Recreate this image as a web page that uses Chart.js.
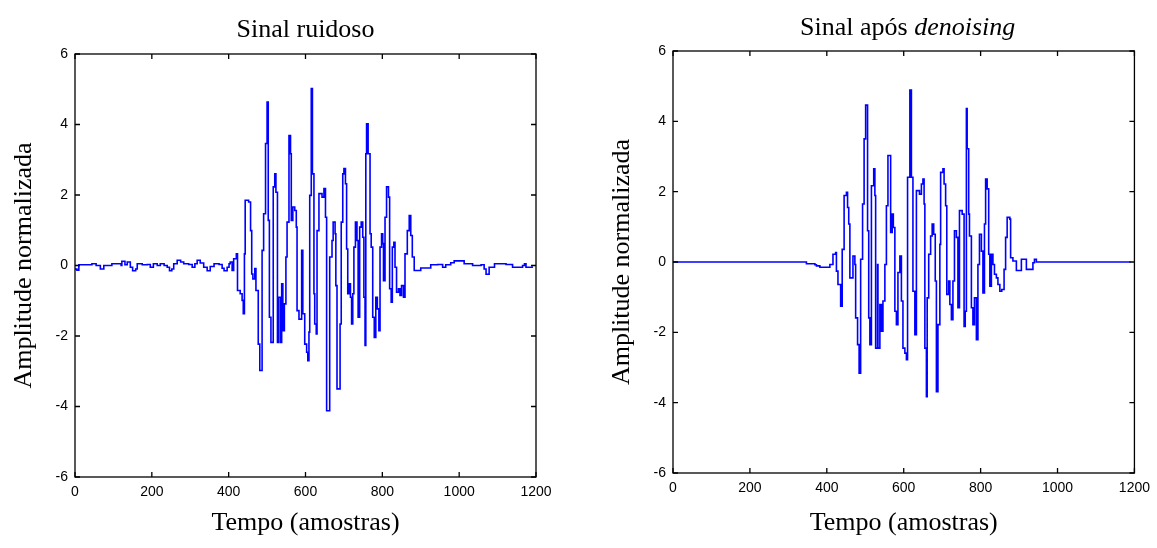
<!DOCTYPE html>
<html>
<head>
<meta charset="utf-8">
<script src="https://cdn.jsdelivr.net/npm/chart.js@4/dist/chart.umd.min.js"></script>
<style>
  html, body { margin: 0; padding: 0; background: #fff; }
  #wrap { position: relative; width: 1157px; height: 548px; }
  canvas { position: absolute; top: 0; }
</style>
</head>
<body>
<div id="wrap">
  <canvas id="chartRuidoso" width="598" height="548" style="left:0"></canvas>
  <canvas id="chartLimpo" width="559" height="548" style="left:598px"></canvas>
</div>
<script>
// sinal ruidoso: amostra onde começa cada patamar, e o valor
const tempoRuidoso = [
  0, 5, 10, 44, 55, 66, 75, 96, 120, 122, 130, 136, 144, 150, 158, 162, 175, 188, 196, 204,
  214, 222, 232, 240, 246, 252, 257, 266, 275, 283, 296, 305, 312, 318, 326, 335, 344, 352, 362, 375,
  383, 388, 396, 401, 404, 409, 413, 420, 423, 430, 435, 438, 441, 443, 452, 457, 460, 463, 468, 471,
  477, 481, 487, 491, 496, 500, 503, 506, 510, 516, 520, 523, 527, 530, 535, 538, 541, 545, 549, 552,
  557, 561, 563, 567, 572, 576, 578, 583, 590, 593, 598, 603, 606, 609, 611, 615, 618, 622, 624, 628,
  630, 635, 643, 648, 652, 655, 663, 669, 672, 677, 679, 682, 690, 693, 697, 700, 704, 707, 710, 714,
  717, 720, 723, 726, 730, 734, 737, 741, 745, 749, 752, 755, 757, 759, 763, 768, 771, 775, 779, 783,
  787, 791, 794, 798, 801, 803, 807, 811, 816, 819, 823, 826, 830, 833, 837, 842, 846, 850, 855, 859,
  865, 870, 874, 878, 883, 900, 926, 944, 957, 965, 978, 987, 1013, 1035, 1057, 1065, 1070, 1078, 1092, 1122,
  1139, 1165, 1170, 1174, 1190
];
const sinalRuidoso = [
  -0.10, -0.13, 0.02, 0.05, 0.00, -0.10, 0.00, 0.05, 0.00, 0.12, 0.02, 0.10, -0.05, -0.15, -0.10, 0.05, 0.02, 0.03, -0.05, 0.05,
  0.00, 0.05, 0.00, -0.05, -0.15, -0.10, 0.05, 0.15, 0.10, 0.05, 0.03, -0.05, 0.05, 0.15, 0.07, -0.05, -0.15, -0.03, 0.05, 0.03,
  -0.08, -0.15, -0.05, 0.05, 0.10, -0.14, 0.19, 0.33, -0.71, -0.80, -0.99, -1.37, 0.33, 1.85, 1.80, 0.99, -0.24, -0.38, -0.09, -0.71,
  -2.23, -2.98, 0.43, 1.47, 3.46, 4.64, 1.28, -1.47, -2.18, 2.23, 2.60, 2.08, -2.18, -0.90, -2.18, -0.52, -1.85, -1.09, 0.24, 1.23,
  3.69, 3.17, 1.28, 1.66, 1.56, 1.09, -1.28, -1.52, 0.43, -1.37, -2.23, -2.46, -2.70, -1.89, 1.99, 5.02, 2.60, -0.80, -1.66, -1.94,
  0.99, 2.04, 1.94, 2.18, 1.37, -4.12, 0.24, 0.71, 1.23, 0.90, -0.57, -3.50, -1.66, 1.23, 2.60, 2.75, 2.32, 0.47, -0.80, -0.52,
  -0.90, -1.66, -0.80, 0.52, 1.23, 0.71, -1.47, 1.09, 1.23, 0.80, -0.90, -2.27, 3.17, 4.02, 3.17, 0.90, 0.52, -1.47, -2.04, -0.90,
  -1.23, -1.85, 0.52, 0.90, 0.62, -0.43, 1.37, 2.23, 1.94, -0.66, -1.04, 0.52, 0.66, -0.05, -0.76, -0.66, -0.85, -0.57, -0.90, 0.33,
  0.99, 1.42, 0.85, 0.24, -0.14, -0.07, 0.02, 0.03, -0.05, 0.02, 0.08, 0.13, 0.05, 0.00, 0.02, -0.10, -0.25, -0.05, 0.05, 0.03,
  -0.05, 0.00, 0.05, -0.05, -0.02
];

// sinal após denoising
const tempoLimpo = [
  0, 347, 369, 373, 382, 408, 416, 423, 425, 429, 436, 440, 445, 451, 454, 457, 460, 468, 473, 475,
  480, 484, 488, 493, 497, 501, 506, 509, 512, 516, 522, 525, 527, 532, 533, 538, 542, 546, 551, 555,
  559, 566, 570, 573, 577, 581, 585, 590, 594, 598, 603, 607, 610, 616, 620, 624, 629, 633, 641, 646,
  650, 653, 655, 659, 661, 665, 670, 674, 678, 682, 685, 689, 694, 696, 702, 705, 709, 712, 717, 720,
  724, 728, 732, 737, 741, 745, 752, 757, 760, 763, 765, 769, 771, 776, 780, 784, 789, 793, 797, 802,
  806, 810, 813, 817, 821, 824, 828, 832, 836, 841, 845, 850, 855, 861, 865, 869, 876, 878, 884, 893,
  906, 919, 936, 940, 945, 1190
];
const sinalLimpo = [
  0.00, -0.05, -0.08, -0.11, -0.15, -0.07, 0.22, 0.27, -0.26, -0.64, -1.26, 0.36, 1.89, 1.98, 1.55, 1.08, -0.45, 0.17, -0.07, -1.59,
  -2.35, -3.16, 0.08, 1.65, 3.50, 4.46, 0.89, -1.59, -2.35, 2.17, 2.65, 1.89, -2.45, -0.07, -2.45, -1.21, -1.97, -1.11, -0.07, 1.60,
  3.03, 0.84, 1.36, 0.98, -1.40, -1.78, -0.30, 0.17, -1.11, -2.45, -2.59, -2.78, 2.41, 4.89, 2.41, -0.83, -2.07, 2.03, 1.93, 2.22,
  2.36, 1.65, -2.45, -3.83, -1.02, 0.22, 0.74, 1.08, 0.79, -0.54, -3.69, -1.78, 0.50, 2.55, 2.65, 2.22, 1.60, -0.92, -0.54, -1.21,
  -1.64, -0.54, 0.89, 0.70, -1.30, 1.46, 1.36, -1.83, -1.40, 4.36, 3.22, 1.36, 0.74, -1.30, -1.78, -1.02, -2.21, -0.07, 0.79, 0.31,
  -0.88, 1.08, 2.36, 2.08, 0.22, -0.69, 0.22, -0.07, -0.35, -0.45, -0.64, -0.83, -0.78, -0.21, 0.70, 1.27, 1.22, 0.12, 0.03, -0.24,
  0.08, -0.21, -0.02, 0.08, 0.00, 0.00
];

const xTicks = [0, 200, 400, 600, 800, 1000, 1200];
const yTicks = [-6, -4, -2, 0, 2, 4, 6];

const serif = '"Liberation Serif", "Times New Roman", serif';
const sans = '"Liberation Sans", Arial, sans-serif';

// caixa fechada com marcas para dentro, nos quatro lados
const caixa = {
  id: 'caixa',
  afterDatasetsDraw(chart) {
    const { ctx, chartArea: a, scales: { x, y } } = chart;
    ctx.save();
    ctx.strokeStyle = '#000';
    ctx.lineWidth = 1.3;
    ctx.strokeRect(a.left, a.top, a.right - a.left, a.bottom - a.top);
    ctx.beginPath();
    x.ticks.forEach(t => {
      const p = x.getPixelForValue(t.value);
      ctx.moveTo(p, a.bottom); ctx.lineTo(p, a.bottom - 5);
      ctx.moveTo(p, a.top); ctx.lineTo(p, a.top + 5);
    });
    y.ticks.forEach(t => {
      const p = y.getPixelForValue(t.value);
      ctx.moveTo(a.left, p); ctx.lineTo(a.left + 5, p);
      ctx.moveTo(a.right, p); ctx.lineTo(a.right - 5, p);
    });
    ctx.stroke();
    ctx.restore();
  }
};

// título com partes em itálico
const titulo = {
  id: 'titulo',
  afterDraw(chart, args, opts) {
    const { ctx, chartArea: a } = chart;
    ctx.save();
    ctx.fillStyle = '#000';
    ctx.textBaseline = 'alphabetic';
    ctx.textAlign = 'left';
    const fonts = opts.parts.map(p => (p.italic ? 'italic ' : '') + '26px ' + serif);
    const widths = opts.parts.map((p, i) => { ctx.font = fonts[i]; return ctx.measureText(p.text).width; });
    let x = (a.left + a.right) / 2 + (opts.dx || 0) - widths.reduce((s, w) => s + w, 0) / 2;
    opts.parts.forEach((p, i) => {
      ctx.font = fonts[i];
      ctx.fillText(p.text, x, opts.y);
      x += widths[i];
    });
    ctx.restore();
  }
};

function makeChart(id, tempo, sinal, partsTitulo, tituloY, tituloDx, pad) {
  const pontos = tempo.map((t, i) => ({ x: t, y: sinal[i] }));
  return new Chart(document.getElementById(id), {
    type: 'line',
    data: {
      datasets: [{
        data: pontos,
        borderColor: '#0000ff',
        borderWidth: 1.6,
        pointRadius: 0,
        stepped: true,
        fill: false
      }]
    },
    options: {
      responsive: false,
      animation: false,
      events: [],
      layout: { padding: { left: pad.left, right: pad.right, top: pad.top, bottom: 0 } },
      plugins: {
        legend: { display: false },
        tooltip: { enabled: false },
        titulo: { parts: partsTitulo, y: tituloY, dx: tituloDx }
      },
      scales: {
        x: {
          type: 'linear',
          min: 0,
          max: 1200,
          afterBuildTicks: s => { s.ticks = xTicks.map(v => ({ value: v })); },
          afterFit: s => { s.height = 548 - pad.chartBottom; },
          grid: { display: false, drawTicks: false },
          border: { display: false },
          ticks: {
            color: '#000', padding: 7, maxRotation: 0,
            font: { family: sans, size: 14 },
            callback: v => String(v)
          },
          title: {
            display: true,
            text: 'Tempo (amostras)',
            color: '#000',
            font: { family: serif, size: 26 },
            padding: { top: 0, bottom: 9 }
          }
        },
        y: {
          min: -6,
          max: 6,
          afterBuildTicks: s => { s.ticks = yTicks.map(v => ({ value: v })); },
          afterFit: s => { s.width = 75; },
          grid: { display: false, drawTicks: false },
          border: { display: false },
          ticks: {
            color: '#000', padding: 7,
            font: { family: sans, size: 14 },
            callback: v => String(v)
          },
          title: {
            display: true,
            text: 'Amplitude normalizada',
            color: '#000',
            font: { family: serif, size: 26 },
            padding: { top: 9, bottom: 0 }
          }
        }
      }
    },
    plugins: [caixa, titulo]
  });
}

makeChart('chartRuidoso', tempoRuidoso, sinalRuidoso,
  [{ text: 'Sinal ruidoso' }], 37, 0,
  { left: 0, right: 62, top: 54, chartBottom: 477 });

makeChart('chartLimpo', tempoLimpo, sinalLimpo,
  [{ text: 'Sinal após ' }, { text: 'denoising', italic: true }], 35, 4,
  { left: 0, right: 22, top: 51, chartBottom: 473 });
</script>
</body>
</html>
